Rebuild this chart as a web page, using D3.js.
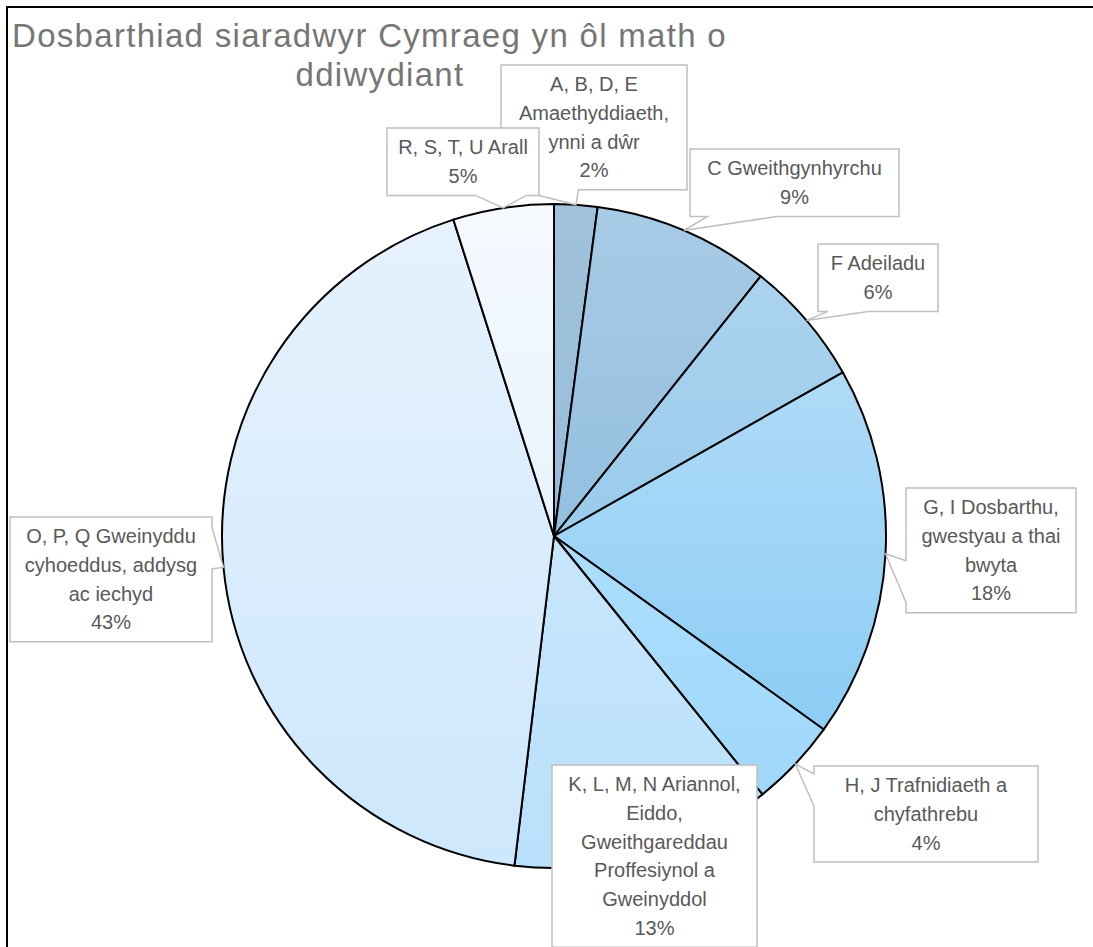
<!DOCTYPE html>
<html lang="cy">
<head>
<meta charset="UTF-8">
<title>Dosbarthiad siaradwyr Cymraeg</title>
<script src="https://d3js.org/d3.v7.min.js"></script>
<style>
    body { margin: 0; background: #fff; }
    svg { display: block; }
    .title { font-family: "Liberation Sans", Arial, sans-serif; font-size: 33px; fill: #767676; }
    .lbl { font-family: "Liberation Sans", Arial, sans-serif; font-size: 20px; fill: #595959; }
</style>
</head>
<body>
<svg id="chart" width="1093" height="947"></svg>
<script>
// data, clockwise from 12 o'clock
const categories = [
    ["A, B, D, E", "Amaethyddiaeth,", "ynni a dŵr"],
    ["C Gweithgynhyrchu"],
    ["F Adeiladu"],
    ["G, I Dosbarthu,", "gwestyau a thai", "bwyta"],
    ["H, J Trafnidiaeth a", "chyfathrebu"],
    ["K, L, M, N Ariannol,", "Eiddo,", "Gweithgareddau", "Proffesiynol a", "Gweinyddol"],
    ["O, P, Q Gweinyddu", "cyhoeddus, addysg", "ac iechyd"],
    ["R, S, T, U Arall"]
];
const values = [2.1, 8.6, 6.1, 18.1, 4.3, 12.7, 43.2, 4.9];
const titleLines = ["Dosbarthiad siaradwyr Cymraeg yn ôl math o", "ddiwydiant"];

// gradient colours per slice (top, bottom)
const fillsTop    = ["#a0c2dc", "#a8cbe6", "#abd3ee", "#afdbf7", "#acdefc", "#c8e6fc", "#e6f2fd", "#f5f9fe"];
const fillsBottom = ["#98bcd8", "#93bfdf", "#99cbeb", "#8ccdf5", "#a0d8fb", "#b9e0fb", "#cde7fc", "#e8f3fd"];

// label box layout (left, top, width)
const boxes = [
    [501, 65, 186], [690, 149, 209], [818, 244, 120], [906, 488, 170],
    [814, 766, 224], [552, 765, 205], [10, 517, 202], [387, 128, 152]
];

const cx = 554, cy = 536, radius = 332;
const lineH = 28.7;

const svg = d3.select("#chart");
const defs = svg.append("defs");

values.forEach((v, i) => {
    const g = defs.append("linearGradient")
        .attr("id", "grad" + i)
        .attr("x1", 0).attr("y1", 0).attr("x2", 0).attr("y2", 1);
    g.append("stop").attr("offset", "0%").attr("stop-color", fillsTop[i]);
    g.append("stop").attr("offset", "100%").attr("stop-color", fillsBottom[i]);
});

// outer frame (only top and left visible)
svg.append("path")
    .attr("d", "M7,947 L7,7 L1093,7")
    .attr("fill", "none")
    .attr("stroke", "#000")
    .attr("stroke-width", 2);

// title, letter-spaced so the first line spans the same width as the original
const t1 = svg.append("text").attr("class", "title")
    .attr("x", 12).attr("y", 47)
    .text(titleLines[0]);
const spacing = (715 - t1.node().getComputedTextLength()) / titleLines[0].length;
t1.style("letter-spacing", spacing + "px");
svg.append("text").attr("class", "title")
    .attr("x", 380).attr("y", 86)
    .attr("text-anchor", "middle")
    .style("letter-spacing", spacing + "px")
    .text(titleLines[1]);

// pie
const pie = d3.pie().sort(null).value(d => d);
const arcs = pie(values);
const arc = d3.arc().innerRadius(0).outerRadius(radius);
const total = d3.sum(values);

const pieG = svg.append("g").attr("transform", `translate(${cx},${cy})`);
pieG.selectAll("path")
    .data(arcs)
    .enter().append("path")
    .attr("d", arc)
    .attr("fill", (d, i) => `url(#grad${i})`)
    .attr("stroke", "#000")
    .attr("stroke-width", 2)
    .attr("stroke-linejoin", "round");

// callout labels (box with a wedge pointing at the slice)
function calloutPath(x, y, w, h, tx, ty) {
    const inside = tx >= x && tx <= x + w && ty >= y && ty <= y + h;
    if (inside) return `M${x},${y}H${x + w}V${y + h}H${x}Z`;
    const dx = (tx - (x + w / 2)) / w, dy = (ty - (y + h / 2)) / h;
    let p;
    if (Math.abs(dx) > Math.abs(dy)) {
        const a = dy < 0 ? y + h / 12 : y + h * 7 / 12;
        const b = dy < 0 ? y + h * 5 / 12 : y + h * 11 / 12;
        if (dx < 0) {
            p = `M${x},${y}H${x + w}V${y + h}H${x}V${b}L${tx},${ty}L${x},${a}Z`;
        } else {
            p = `M${x},${y}H${x + w}V${a}L${tx},${ty}L${x + w},${b}V${y + h}H${x}Z`;
        }
    } else {
        const a = dx < 0 ? x + w / 12 : x + w * 7 / 12;
        const b = dx < 0 ? x + w * 5 / 12 : x + w * 11 / 12;
        if (dy > 0) {
            p = `M${x},${y}H${x + w}V${y + h}H${b}L${tx},${ty}L${a},${y + h}H${x}Z`;
        } else {
            p = `M${x},${y}H${a}L${tx},${ty}L${b},${y}H${x + w}V${y + h}H${x}Z`;
        }
    }
    return p;
}

arcs.forEach((d, i) => {
    const [bx, by, bw] = boxes[i];
    const lines = categories[i].concat([Math.round(d.value / total * 100) + "%"]);
    const bh = lines.length * lineH + 10;
    const mid = (d.startAngle + d.endAngle) / 2;
    const tx = cx + radius * Math.sin(mid);
    const ty = cy - radius * Math.cos(mid);

    const g = svg.append("g");
    g.append("path")
        .attr("d", calloutPath(bx, by, bw, bh, tx, ty))
        .attr("fill", "#fff")
        .attr("stroke", "#bfbfbf")
        .attr("stroke-width", 1.5);
    const txt = g.append("text").attr("class", "lbl").attr("text-anchor", "middle");
    lines.forEach((ln, k) => {
        txt.append("tspan")
            .attr("x", bx + bw / 2)
            .attr("y", by + 5 + lineH * (k + 0.5) + 7)
            .text(ln);
    });
});
</script>
</body>
</html>
